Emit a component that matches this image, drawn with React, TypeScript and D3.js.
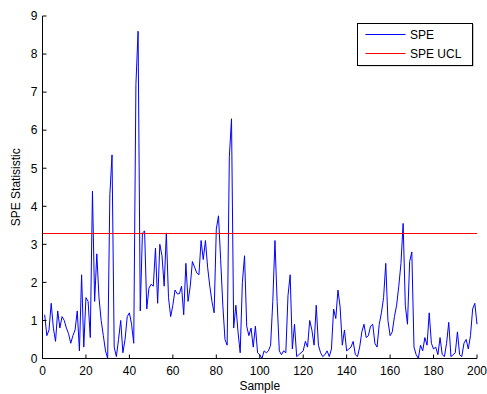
import React from "react";
import * as d3 from "d3";

// SPE statistic per sample (samples 1..200)
const speValues: number[] = [
  1.15, 0.6, 0.75, 1.45, 0.8, 0.45, 1.25, 0.8, 1.1, 1.0,
  0.8, 0.65, 0.4, 0.6, 0.75, 1.25, 0.2, 2.2, 0.3, 1.6,
  1.5, 0.55, 4.4, 1.5, 2.75, 1.6, 1.0, 0.6, 0.2, 0.0,
  4.3, 5.35, 0.3, 0.05, 0.5, 1.0, 0.15, 0.5, 1.1, 1.2,
  0.9, 0.4, 7.2, 8.6, 1.25, 3.3, 3.35, 1.3, 1.85, 1.95,
  1.9, 2.9, 1.45, 3.0, 2.7, 1.9, 3.3, 1.6, 1.1, 1.4,
  1.8, 1.7, 1.7, 1.9, 1.15, 2.5, 1.5, 1.9, 2.55, 2.4,
  2.25, 2.2, 3.1, 2.6, 3.1, 2.4, 1.9, 1.5, 1.2, 3.4,
  3.75, 2.6, 1.4, 0.5, 0.35, 5.3, 6.3, 0.8, 1.4, 0.7,
  0.15, 2.0, 2.7, 0.85, 0.6, 0.8, 0.3, 0.85, 0.15, 0.1,
  0.0, 0.2, 0.15, 0.2, 0.35, 1.5, 3.1, 1.5, 0.2, 0.1,
  0.2, 0.15, 1.65, 2.2, 0.25, 0.9, 0.05, 0.1, 0.15, 0.2,
  0.45, 0.3, 1.0, 0.75, 0.35, 1.4, 0.35, 0.15, 0.05, 0.1,
  0.2, 0.05, 0.25, 1.3, 1.05, 1.8, 1.35, 0.35, 0.75, 0.2,
  0.25, 0.3, 0.45, 0.1, 0.05, 0.3, 0.7, 0.9, 0.55, 0.6,
  0.85, 0.9, 0.4, 0.3, 0.9, 1.2, 1.6, 2.5, 1.0, 0.6,
  0.7, 1.1, 1.4, 1.9, 2.5, 3.55, 1.4, 0.9, 2.55, 2.8,
  0.3, 0.1, 0.0, 0.35, 0.2, 0.55, 0.35, 1.2, 0.4, 0.25,
  0.3, 0.1, 0.55, 0.1, 0.05, 0.4, 0.95, 0.05, 0.1, 0.15,
  0.7, 0.1, 0.05, 0.4, 0.5, 0.25, 0.6, 1.3, 1.45, 0.9,
];

// Upper control limit
const speUcl = 3.28;

const xTicks: number[] = [0, 20, 40, 60, 80, 100, 120, 140, 160, 180, 200];
const yTicks: number[] = [0, 1, 2, 3, 4, 5, 6, 7, 8, 9];
const legendLabels: string[] = ["SPE", "SPE UCL"];

const W = 487;
const H = 394;
const left = 42.5;
const right = 477;
const top = 16;
const bottom = 358.5;
const font = "Arial, 'Liberation Sans', Helvetica, sans-serif";

export default function App() {
  const x = d3.scaleLinear().domain([0, 200]).range([left, right]);
  const y = d3.scaleLinear().domain([0, 9]).range([bottom, top]);

  const line = d3
    .line<number>()
    .x((_, i) => x(i + 1))
    .y((d) => y(d));

  const tickLen = 4;
  // snap the limit line to a pixel row so it renders crisp
  const uclY = Math.floor(y(speUcl)) + 0.5;

  return (
    <svg
      width={W}
      height={H}
      style={{ position: "absolute", left: 0, top: 0, background: "#fff" }}
      fontFamily={font}
    >
      <rect x={0} y={0} width={W} height={H} fill="#fff" />

      {/* data */}
      <path d={line(speValues) ?? ""} fill="none" stroke="#0000ff" strokeWidth={1} />
      <line x1={x(0)} x2={x(200)} y1={uclY} y2={uclY} stroke="#ff0000" strokeWidth={1} />

      {/* axes */}
      <line x1={left} x2={left} y1={top} y2={bottom} stroke="#000" strokeWidth={1} />
      <line x1={left} x2={right} y1={bottom} y2={bottom} stroke="#000" strokeWidth={1} />

      {xTicks.map((t) => (
        <g key={`x${t}`}>
          <line x1={x(t)} x2={x(t)} y1={bottom} y2={bottom - tickLen} stroke="#000" />
          <text x={x(t)} y={bottom + 16} fontSize={12} textAnchor="middle" fill="#000">
            {t}
          </text>
        </g>
      ))}
      {yTicks.map((t) => (
        <g key={`y${t}`}>
          <line x1={left} x2={left + tickLen} y1={y(t)} y2={y(t)} stroke="#000" />
          <text x={left - 5} y={y(t) + 4.3} fontSize={12} textAnchor="end" fill="#000">
            {t}
          </text>
        </g>
      ))}

      <text x={(left + right) / 2} y={390} fontSize={12} textAnchor="middle" fill="#000">
        Sample
      </text>
      <text
        transform={`translate(20, ${(top + bottom) / 2}) rotate(-90)`}
        fontSize={12}
        textAnchor="middle"
        fill="#000"
      >
        SPE Statisistic
      </text>

      {/* legend */}
      <g>
        <rect x={359} y={24.5} width={115} height={42} fill="#c8c8c8" />
        <rect x={357.5} y={23.5} width={115} height={42} fill="#fff" stroke="#000" strokeWidth={1} />
        {legendLabels.map((lab, i) => (
          <g key={lab}>
            <line
              x1={365.5}
              x2={405.5}
              y1={34.5 + i * 19}
              y2={34.5 + i * 19}
              stroke={i === 0 ? "#0000ff" : "#ff0000"}
              strokeWidth={1}
            />
            <text x={410} y={38.8 + i * 19} fontSize={12} fill="#000">
              {lab}
            </text>
          </g>
        ))}
      </g>
    </svg>
  );
}
